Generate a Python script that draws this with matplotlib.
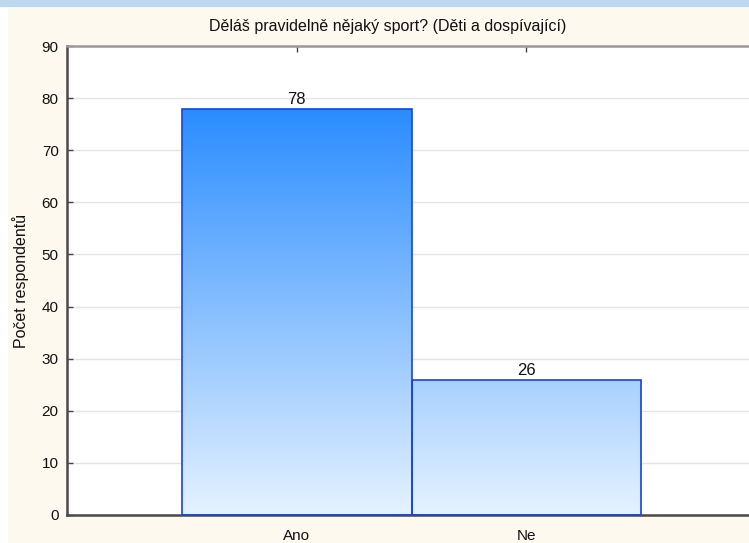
import numpy as np
import matplotlib
matplotlib.use("Agg")
import matplotlib.pyplot as plt
from matplotlib.colors import LinearSegmentedColormap
from matplotlib.patches import Rectangle

plt.rcParams['font.family'] = ['Liberation Sans', 'DejaVu Sans']

# Data
categories = ["Ano", "Ne"]
counts = [78, 26]
y_ticks = [0, 10, 20, 30, 40, 50, 60, 70, 80, 90]
title = "Děláš pravidelně nějaký sport? (Děti a dospívající)"
ylabel = "Počet respondentů"

W, H = 749, 543
fig = plt.figure(figsize=(W / 100, H / 100), dpi=100, facecolor="white")

# Window frame: cream panel with a light blue strip along the top
fig.patches.append(Rectangle((8 / W, 0), 1 - 8 / W, 1 - 7 / H, transform=fig.transFigure,
                             facecolor="#fef9ee", edgecolor="none", zorder=-10))
fig.patches.append(Rectangle((0, 1 - 7 / H), 1, 7 / H, transform=fig.transFigure,
                             facecolor="#bdd7ee", edgecolor="none", zorder=-10))

left, right, top, bottom = 67, 756, 46, 515
ax = fig.add_axes([left / W, 1 - bottom / H, (right - left) / W, (bottom - top) / H])
ax.set_facecolor("white")

x = np.arange(len(categories))

# Gradient shared by all bars, scaled by value
cmap = LinearSegmentedColormap.from_list("bluegrad", ["#e6f2ff", "#2a8cff"])
vmax = max(counts)
grad = np.linspace(0, 1, 256).reshape(-1, 1)

bars = ax.bar(x, counts, width=1.0, facecolor="none", edgecolor="#1646d8",
              linewidth=1.2, zorder=3)
for b in bars:
    x0 = b.get_x()
    im = ax.imshow(grad, cmap=cmap, origin="lower", aspect="auto",
                   extent=[x0, x0 + b.get_width(), 0, vmax], zorder=2,
                   interpolation="bilinear")
    im.set_clip_path(b)

for xi, v in zip(x, counts):
    ax.text(xi, v + 0.35, f"{v}", ha="center", va="bottom", fontsize=12,
            color="#111111")

ax.set_xlim(-1, 2)
ax.set_ylim(0, 90)
ax.set_yticks(y_ticks)
ax.set_xticks(x)
ax.set_xticklabels(categories)
ax.yaxis.grid(True, color="#e4e4e4", linewidth=1.0, zorder=0)
ax.set_axisbelow(True)

ax.tick_params(axis="both", direction="in", length=4, width=1, color="#444444",
               labelsize=11, labelcolor="#111111")
ax.tick_params(axis="x", top=True, pad=10)
ax.tick_params(axis="y", pad=6)

for s in ["left", "bottom"]:
    ax.spines[s].set_color("#4a4a4a")
    ax.spines[s].set_linewidth(1.8)
ax.spines["top"].set_color("#9a9a9a")
ax.spines["top"].set_linewidth(1.8)
ax.spines["right"].set_visible(False)

# Title centred over the visible window
fig.text(388 / W, 1 - 27 / H, title, fontsize=11.5, color="#111111",
         ha="center", va="center")
ax.set_ylabel(ylabel, fontsize=11.5, color="#111111", va="center")
ax.yaxis.set_label_coords((21 - left) / (right - left), 0.5)

fig.savefig("out.png", dpi=100, facecolor="white")
